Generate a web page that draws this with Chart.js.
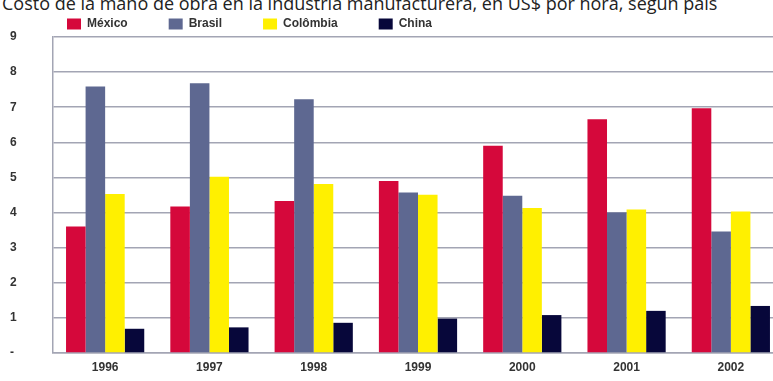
<!DOCTYPE html>
<html>
<head>
<meta charset="utf-8">
<script src="https://cdn.jsdelivr.net/npm/chart.js@4.4.1/dist/chart.umd.min.js"></script>
<style>
  html, body { margin: 0; padding: 0; background: #fff; overflow: hidden; }
  #title {
    position: absolute; left: 2px; top: -9px; white-space: nowrap;
    font: 18px "Open Sans", sans-serif; color: #222;
  }
  #laborChart { position: absolute; left: 0; top: 0; }
</style>
</head>
<body>
<div id="title">Costo de la mano de obra en la industria manufacturera, en US$ por hora, según país</div>
<canvas id="laborChart" width="783" height="381"></canvas>
<script>
var years = ['1996', '1997', '1998', '1999', '2000', '2001', '2002'];
var mexico = [3.60, 4.17, 4.33, 4.90, 5.90, 6.66, 6.97];
var brasil = [7.59, 7.68, 7.23, 4.57, 4.48, 4.00, 3.46];
var colombia = [4.53, 5.02, 4.81, 4.51, 4.13, 4.09, 4.03];
var china = [0.69, 0.73, 0.86, 0.98, 1.08, 1.20, 1.34];

var gridColor = '#a3a5b4';
var labelFont = { family: 'Liberation Sans, Arial, sans-serif', size: 12, weight: 'bold' };

// legend sits above the plot, shifted so the row starts right of the y labels
var legendSpot = {
    id: 'legendSpot',
    beforeInit: function (chart) {
        var fit = chart.legend.fit;
        chart.legend.fit = function () {
            fit.call(this);
            this.height = 37;
        };
    },
    afterLayout: function (chart) {
        chart.legend.left = 26;
        chart.legend.top = -23;
    }
};

var ctx = document.getElementById('laborChart').getContext('2d');
var chart = new Chart(ctx, {
    type: 'bar',
    data: {
        labels: years,
        datasets: [
            { label: 'México', data: mexico, backgroundColor: '#d5083b' },
            { label: 'Brasil', data: brasil, backgroundColor: '#5e6891' },
            { label: 'Colômbia', data: colombia, backgroundColor: '#fff000' },
            { label: 'China', data: china, backgroundColor: '#07073a' }
        ]
    },
    options: {
        responsive: false,
        animation: false,
        layout: { padding: { top: 0, bottom: 0, left: 10, right: 0 } },
        datasets: {
            bar: { categoryPercentage: 0.75, barPercentage: 1.0 }
        },
        plugins: {
            tooltip: { enabled: false },
            legend: {
                position: 'top',
                align: 'start',
                labels: {
                    boxWidth: 14,
                    boxHeight: 11,
                    padding: 41,
                    color: '#333',
                    font: labelFont
                }
            }
        },
        scales: {
            x: {
                grid: { display: false, drawTicks: false },
                border: { display: true, color: gridColor, width: 1.5 },
                ticks: { color: '#333', font: labelFont, padding: 7 },
                afterFit: function (scale) { scale.height = 28; }
            },
            y: {
                min: 0,
                max: 9,
                ticks: {
                    stepSize: 1,
                    color: '#333',
                    font: labelFont,
                    padding: 3,
                    crossAlign: 'far',
                    callback: function (v) { return v === 0 ? '-' : v; }
                },
                grid: { color: gridColor, lineWidth: 1.5, drawTicks: false },
                border: { display: true, color: gridColor, width: 1.5 },
                afterFit: function (scale) { scale.width = 43; }
            }
        }
    },
    plugins: [legendSpot]
});
</script>
</body>
</html>
